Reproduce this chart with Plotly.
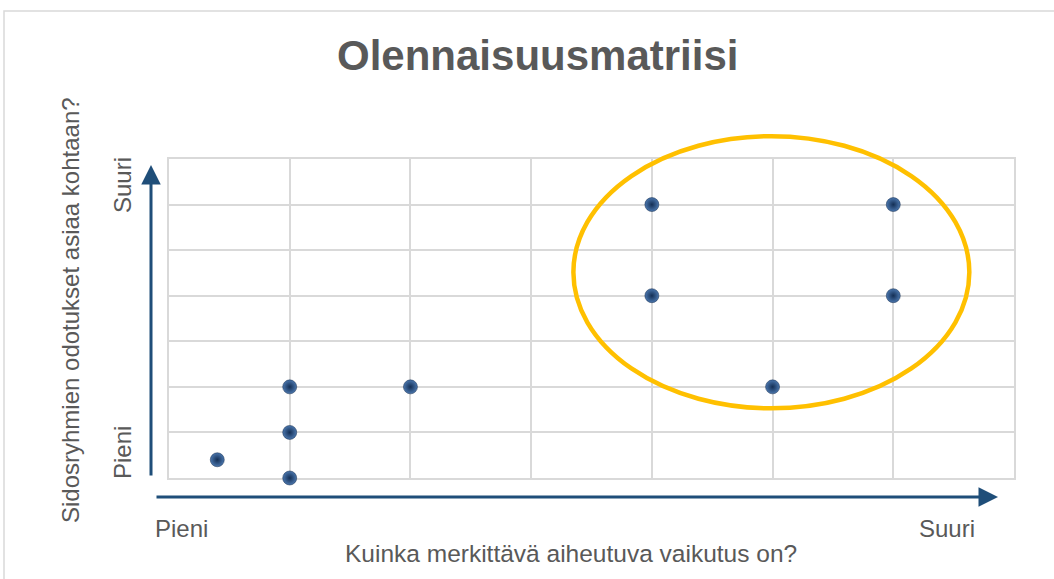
import plotly.graph_objects as go

# Data
impact = [0.4, 1, 1, 1, 2, 4, 4, 5, 6, 6]          # Kuinka merkittävä aiheutuva vaikutus on?
expectations = [0.4, 0, 1, 2, 2, 6, 4, 2, 6, 4]    # Sidosryhmien odotukset asiaa kohtaan?
title_text = "Olennaisuusmatriisi"
x_title = "Kuinka merkittävä aiheutuva vaikutus on?"
y_title = "Sidosryhmien odotukset asiaa kohtaan?"
low_label = "Pieni"
high_label = "Suuri"
axis_max = 7
ellipse_x = [3.35, 6.63]
ellipse_y = [1.53, 7.5]

W, H = 1054, 579
L, R, T, B = 169, 40, 159, 101
pw, ph = W - L - R, H - T - B

def px(x):
    return (x - L) / pw

def py(y):
    return (H - B - y) / ph

FONT = "Liberation Sans, Arial, sans-serif"
GRAY = "#595959"
NAVY = "#1F4E79"
GRID = "#d9d9d9"

fig = go.Figure()
fig.add_trace(go.Scatter(
    x=impact, y=expectations, mode="markers", cliponaxis=False,
    marker=dict(size=14, color="#4a76ad",
                gradient=dict(type="radial", color="#142f55"),
                line=dict(width=0.5, color="#10284a")),
    hoverinfo="x+y", showlegend=False,
))

axis_style = dict(range=[0, axis_max], dtick=1, tick0=0, showgrid=True, gridcolor=GRID,
                  gridwidth=2, showticklabels=False, zeroline=False, showline=True,
                  linecolor=GRID, linewidth=2, mirror=True, ticks="", fixedrange=True,
                  layer="below traces")
fig.update_xaxes(**axis_style)
fig.update_yaxes(**axis_style)

shapes = [
    # outer chart border
    dict(type="rect", xref="paper", yref="paper", x0=px(4), x1=px(1060), y0=py(11), y1=py(590),
         line=dict(color=GRID, width=1.5), layer="below"),
    # ellipse (paper coords derived from data values so it is not clipped)
    dict(type="circle", xref="paper", yref="paper",
         x0=ellipse_x[0] / axis_max, x1=ellipse_x[1] / axis_max,
         y0=ellipse_y[0] / axis_max, y1=ellipse_y[1] / axis_max,
         line=dict(color="#FFC000", width=4.5)),
]

annotations = [
    dict(text="<b>" + title_text + "</b>", x=px(537), y=py(55), xref="paper", yref="paper",
         showarrow=False, font=dict(family=FONT, size=42, color=GRAY), xanchor="center", yanchor="middle"),
    # axis arrows
    dict(x=px(151), y=py(165), xref="paper", yref="paper", ax=0, ay=312, axref="pixel", ayref="pixel",
         showarrow=True, arrowhead=2, arrowsize=1.3, arrowwidth=3, arrowcolor=NAVY, text=""),
    dict(x=px(998), y=py(497), xref="paper", yref="paper", ax=-843, ay=0, axref="pixel", ayref="pixel",
         showarrow=True, arrowhead=2, arrowsize=1.3, arrowwidth=3, arrowcolor=NAVY, text=""),
    # x labels
    dict(text=low_label, x=px(181), y=py(528), xref="paper", yref="paper", showarrow=False,
         font=dict(family=FONT, size=24, color=GRAY), xanchor="center", yanchor="middle"),
    dict(text=high_label, x=px(947), y=py(528), xref="paper", yref="paper", showarrow=False,
         font=dict(family=FONT, size=24, color=GRAY), xanchor="center", yanchor="middle"),
    dict(text=x_title, x=px(571), y=py(553), xref="paper", yref="paper", showarrow=False,
         font=dict(family=FONT, size=24.5, color=GRAY), xanchor="center", yanchor="middle"),
    # y labels
    dict(text=high_label, x=px(122), y=py(185), xref="paper", yref="paper", showarrow=False, textangle=-90,
         font=dict(family=FONT, size=24, color=GRAY), xanchor="center", yanchor="middle"),
    dict(text=low_label, x=px(122), y=py(453), xref="paper", yref="paper", showarrow=False, textangle=-90,
         font=dict(family=FONT, size=24, color=GRAY), xanchor="center", yanchor="middle"),
    dict(text=y_title, x=px(70), y=py(310), xref="paper", yref="paper", showarrow=False, textangle=-90,
         font=dict(family=FONT, size=24, color=GRAY), xanchor="center", yanchor="middle"),
]

fig.update_layout(
    width=W, height=H,
    margin=dict(l=L, r=R, t=T, b=B),
    paper_bgcolor="white", plot_bgcolor="white",
    shapes=shapes, annotations=annotations,
    showlegend=False,
    font=dict(family=FONT, color=GRAY),
)

fig.write_html("out.html", config={"displayModeBar": False},
               post_script="document.body.style.margin='0';document.body.style.overflow='hidden';")
